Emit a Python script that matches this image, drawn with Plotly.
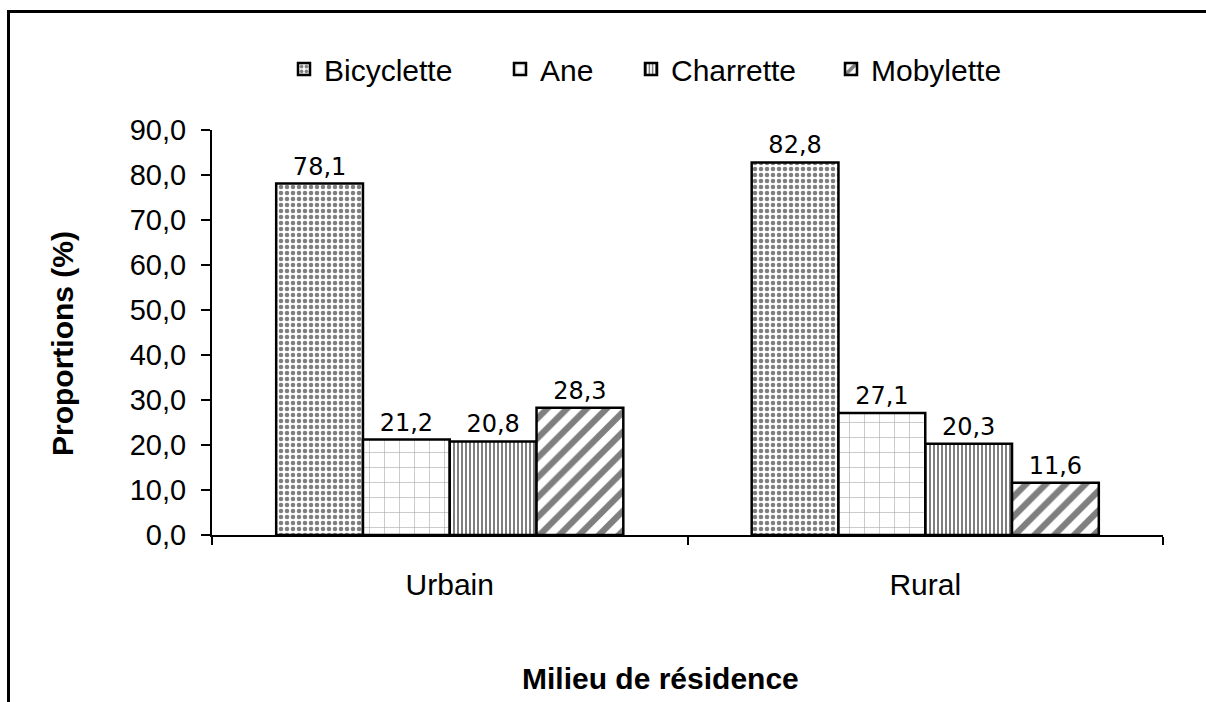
import plotly.graph_objects as go

# Share of households owning each means of transport, by place of residence
milieux = ["Urbain", "Rural"]
series = ["Bicyclette", "Ane", "Charrette", "Mobylette"]
bicyclette = [78.1, 82.8]
ane = [21.2, 27.1]
charrette = [20.8, 20.3]
mobylette = [28.3, 11.6]
y_ticks = [0, 10, 20, 30, 40, 50, 60, 70, 80, 90]

values = [bicyclette, ane, charrette, mobylette]

# Black-and-white hatch fills, one per means of transport
patterns = [
    dict(shape=".", fgcolor="black", bgcolor="white", size=6, solidity=0.45),
    dict(shape="+", fgcolor="#555555", bgcolor="white", size=15, solidity=0.08),
    dict(shape="|", fgcolor="black", bgcolor="white", size=4, solidity=0.5),
    dict(shape="/", fgcolor="black", bgcolor="white", size=14, solidity=0.45),
]

W, H = 1206, 702
L, R, T, B = 212, 43, 130, 167
pw, ph = W - L - R, H - T - B


def px_x(p):
    return (p - L) / pw


def px_y(p):
    return (H - B - p) / ph


legend_names = ["legend", "legend2", "legend3", "legend4"]
legend_text_x = [326, 542, 673, 873]

fig = go.Figure()
for name, vals, pat, lg in zip(series, values, patterns, legend_names):
    fig.add_trace(go.Bar(
        name=name,
        x=milieux,
        y=vals,
        marker=dict(color="white", pattern=pat,
                    line=dict(color="black", width=2.5)),
        texttemplate="%{y:.1f}",
        textposition="outside",
        textfont=dict(family="DejaVu Sans", size=24, color="black"),
        cliponaxis=False,
        legend=lg,
    ))

legend_common = dict(
    orientation="h",
    yanchor="middle",
    xanchor="left",
    y=px_y(69),
    font=dict(family="Liberation Sans", size=30, color="black"),
    bgcolor="rgba(0,0,0,0)",
    borderwidth=0,
)

layout_legends = {}
for lg, tx in zip(legend_names, legend_text_x):
    layout_legends[lg] = dict(legend_common, x=px_x(tx - 42))

fig.update_layout(
    width=W,
    height=H,
    margin=dict(l=L, r=R, t=T, b=B),
    paper_bgcolor="white",
    plot_bgcolor="white",
    barmode="group",
    bargap=0.27,
    bargroupgap=0,
    separators=", ",
    showlegend=True,
    **layout_legends,
)

fig.update_yaxes(
    range=[0, 90],
    tickvals=y_ticks,
    tickformat=".1f",
    showgrid=False,
    zeroline=False,
    showline=True,
    linecolor="black",
    linewidth=2,
    ticks="outside",
    ticklen=9,
    tickwidth=2,
    tickcolor="black",
    ticklabelstandoff=9,
    tickfont=dict(family="Liberation Sans", size=29, color="black"),
)

fig.update_xaxes(
    showgrid=False,
    zeroline=False,
    showline=True,
    linecolor="black",
    linewidth=2,
    ticks="outside",
    tickson="boundaries",
    ticklen=8,
    tickwidth=2,
    tickcolor="black",
    ticklabelstandoff=22,
    tickfont=dict(family="Liberation Sans", size=30, color="black"),
)

# Axis titles
fig.add_annotation(
    text="<b>Proportions (%)</b>",
    xref="paper", yref="paper",
    x=px_x(62), y=px_y(344),
    xanchor="center", yanchor="middle",
    textangle=-90,
    showarrow=False,
    font=dict(family="Liberation Sans", size=30, color="black"),
)
fig.add_annotation(
    text="<b>Milieu de résidence</b>",
    xref="paper", yref="paper",
    x=px_x(660), y=px_y(678),
    xanchor="center", yanchor="middle",
    showarrow=False,
    font=dict(family="Liberation Sans", size=30, color="black"),
)

# Outer frame: left and top edges (the rest runs off the page)
fx0, fy_top, fy_bot, fx_right = px_x(8.5), px_y(11.5), px_y(760), px_x(1260)
fig.add_shape(
    type="path",
    xref="paper", yref="paper",
    path=f"M {fx0},{fy_bot} L {fx0},{fy_top} L {fx_right},{fy_top}",
    line=dict(color="black", width=3),
    layer="above",
)

fig.write_html("out.html")
